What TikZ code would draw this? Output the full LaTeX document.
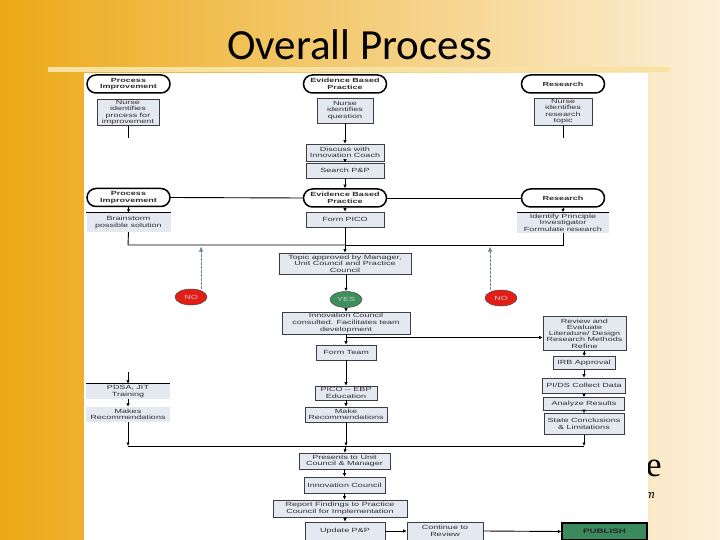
\documentclass[tikz,border=0pt]{standalone}
\usepackage{fontspec}
\setmainfont{Liberation Sans}
\newfontfamily\dfont[FakeStretch=1.5]{Liberation Sans}
\newfontfamily\tfont{Carlito}
\newfontfamily\sfont{Liberation Serif}
\usetikzlibrary{shapes.misc,shapes.geometric,arrows.meta,calc}
\definecolor{bgL}{HTML}{ECA917}
\definecolor{bgM}{HTML}{F4C858}
\definecolor{bgR}{HTML}{FCF0DA}
\definecolor{barc}{HTML}{F7E2A2}
\definecolor{boxfill}{HTML}{E3E8F1}
\definecolor{boxline}{HTML}{3C3C46}
\definecolor{txt}{HTML}{2E2E2E}
\definecolor{yesg}{HTML}{3D8F5C}
\definecolor{nor}{HTML}{E41E17}
\definecolor{pubg}{HTML}{3A8A5E}
\definecolor{dashc}{HTML}{6F8298}
\begin{document}
\begin{tikzpicture}[x=1pt,y=-1pt,
  every node/.style={inner sep=0pt, align=center, text=txt, font=\dfont\fontsize{6}{6.6}\selectfont},
  term/.style={rounded rectangle, draw=black, line width=1.5pt, fill=white,
    minimum width=83pt, minimum height=18pt, font=\dfont\bfseries\fontsize{6}{6.6}\selectfont},
  pbox/.style={draw=boxline, fill=boxfill, line width=0.6pt},
  tbox/.style={fill=boxfill},
  oval/.style={ellipse, draw=black!70, line width=0.5pt, minimum width=32pt, minimum height=16pt, text=white!80!black},
  arr/.style={draw=black, line width=0.9pt, -{Latex[length=3.5pt,width=3.5pt]}},
  ln/.style={draw=black, line width=0.9pt},
  dasharr/.style={draw=dashc, line width=0.8pt, dash pattern=on 2.5pt off 1.5pt, -{Latex[length=5pt,width=4.5pt]}}
]
\useasboundingbox (0,0) rectangle (720,540);
% background
\shade[left color=bgL, middle color=bgM, right color=bgR] (0,0) rectangle (720,540);
\node[font=\sfont\fontsize{35}{35}\selectfont, text=black] (ee) at (654,468) {e};
\node[font=\sfont\itshape\fontsize{13}{13}\selectfont, text=black] (mm) at (650,495) {m};
\fill[barc] (48,67) rectangle (670,72);
\fill[white] (84,73) rectangle (648,540);
\node[font=\tfont\fontsize{43}{43}\selectfont, text=black] (title) at (360,45) {Overall Process};

% top row
\node[term] (pi1) at (128.5,84) {Process\\Improvement};
\node[term] (ebp1) at (345,84) {Evidence Based\\Practice};
\node[term] (res1) at (563,84) {Research};
\node[pbox, minimum width=62pt, minimum height=26pt] (bpi1) at (128,112.5) {Nurse\\identifies\\process for\\improvement};
\node[pbox, minimum width=56pt, minimum height=25pt] (bebp1) at (345,110.5) {Nurse\\identifies\\question};
\node[pbox, minimum width=58pt, minimum height=27pt] (bres1) at (563,111.5) {Nurse\\identifies\\research\\topic};
\coordinate (dpi) at (128,138);
\coordinate (dres) at (563,138);
\draw[ln] (bpi1.south) -- (dpi);
\draw[ln] (bres1.south) -- (dres);
\node[pbox, minimum width=78pt, minimum height=17pt] (discuss) at (345,152.5) {Discuss with\\Innovation Coach};
\node[pbox, minimum width=78pt, minimum height=15pt] (search) at (345,170.5) {Search P\&P};
\draw[arr] (bebp1.south) -- (discuss.north);
\draw[arr] (discuss.south) -- (search.north);

% second row
\node[term] (pi2) at (128.5,197.5) {Process\\Improvement};
\node[term] (ebp2) at (345,198) {Evidence Based\\Practice};
\node[term] (res2) at (563,198) {Research};
\draw[arr] (search.south) -- (ebp2.north);
\draw[ln] (pi2.east) -- (ebp2.west);
\draw[ln] (ebp2.east) -- (res2.west);
\node[tbox, minimum width=84pt, minimum height=19pt] (brain) at (128.5,222.5) {Brainstorm\\possible solution};
\draw[ln] (brain.north west) -- (brain.north east);
\node[pbox, minimum width=78pt, minimum height=15pt] (form) at (345,219.5) {Form PICO};
\node[tbox, minimum width=92pt, minimum height=20pt] (ident) at (563,222.5) {Identify Principle\\Investigator\\Formulate research};
\draw[ln] (ident.north west) -- (ident.north east);
\draw[arr] (pi2.south) -- (brain.north);
\draw[arr] (ebp2.south) -- (form.north);
\draw[arr] (res2.south) -- (ident.north);

% merge
\coordinate (mL) at (128,245);
\coordinate (mM) at (345,245);
\coordinate (mR) at (563,245);
\node[pbox, minimum width=132pt, minimum height=21pt] (topic) at (345,263.5) {Topic approved by Manager,\\Unit Council and Practice\\Council};
\draw[ln] (brain.south) -- (mL) -- (mM);
\draw[ln] (ident.south) -- (mR) -- (mM);
\draw[arr] (form.south) -- (topic.north);

\node[oval, fill=yesg] (yes) at (346,299.5) {YES};
\node[oval, fill=nor] (noL) at (191,297) {NO};
\node[oval, fill=nor] (noR) at (501,298) {NO};
\draw[arr] (topic.south -| yes.north) -- (yes.north);
\coordinate (dL) at (201,246.5);
\coordinate (dR) at (490,246.5);
\draw[dasharr] (noL.north -| dL) -- (dL);
\draw[dasharr] (noR.north -| dR) -- (dR);

\node[pbox, minimum width=128pt, minimum height=22pt] (innov) at (346,323) {Innovation Council\\consulted. Facilitates team\\development};
\draw[arr] (yes.south) -- (innov.north);
\node[pbox, minimum width=60pt, minimum height=15pt] (team) at (346,352.5) {Form Team};
\draw[arr] (innov.south) -- (team.north);
\coordinate (br) at (346,337.5);
\node[pbox, minimum width=83pt, minimum height=34pt, font=\dfont\fontsize{6}{6.3}\selectfont] (review) at (584.5,333.5) {Review and\\Evaluate\\Literature/ Design\\Research Methods\\Refine};
\draw[arr] (br) -- (br -| review.west);
\node[pbox, minimum width=62pt, minimum height=13pt] (irb) at (584,363) {IRB Approval};
\node[pbox, minimum width=83pt, minimum height=15pt] (pids) at (584,385.5) {PI/DS Collect Data};
\node[pbox, minimum width=81pt, minimum height=13pt] (anal) at (584,404) {Analyze Results};
\node[pbox, minimum width=80pt, minimum height=21pt] (state) at (584,424) {State Conclusions\\\& Limitations};
\draw[arr] (review.south) -- (irb.north);
\draw[arr] (irb.south) -- (pids.north);
\draw[arr] (pids.south) -- (anal.north);
\draw[arr] (anal.south) -- (state.north);

% middle lower
\node[pbox, minimum width=62pt, minimum height=14pt] (pico) at (346,393) {PICO -- EBP\\Education};
\node[pbox, minimum width=82pt, minimum height=15pt] (mrec) at (346,414.5) {Make\\Recommendations};
\draw[arr] (team.south) -- (pico.north);
\draw[arr] (pico.south) -- (mrec.north);

% left lower
\coordinate (lstart) at (128,372);
\node[tbox, minimum width=84pt, minimum height=15pt] (pdsa) at (128,391.5) {PDSA, JIT\\Training};
\draw[ln] (pdsa.north west) -- (pdsa.north east);
\node[tbox, minimum width=84pt, minimum height=15pt] (makes) at (128,414.5) {Makes\\Recommendations};
\draw[arr] (lstart) -- (pdsa.north);
\draw[arr] (pdsa.south) -- (makes.north);

% bottom merge
\coordinate (bL) at (128,446);
\coordinate (bM) at (346,446);
\coordinate (bR) at (584,446);
\draw[ln] (bL) -- (bR);
\draw[arr] (makes.south) -- (bL);
\draw[arr] (mrec.south) -- (bM);
\draw[arr] (state.south) -- (bR);

\node[pbox, minimum width=91pt, minimum height=16pt] (pres) at (344.5,461) {Presents to Unit\\Council \& Manager};
\node[pbox, minimum width=81pt, minimum height=16pt] (icoun) at (344.5,485) {Innovation Council};
\node[pbox, minimum width=134pt, minimum height=17pt] (report) at (340,508.5) {Report Findings to Practice\\Council for Implementation};
\node[pbox, minimum width=80pt, minimum height=18pt] (upd) at (345,531) {Update P\&P};
\node[pbox, minimum width=76pt, minimum height=18pt] (cont) at (445,531) {Continue to\\Review};
\node[draw=black, line width=1.2pt, fill=pubg, minimum width=85pt, minimum height=17pt, font=\dfont\bfseries\fontsize{6.5}{7}\selectfont, text=black!85] (pub) at (604.5,531.5) {PUBLISH};
\draw[arr] (bM) -- (pres.north);
\draw[arr] (pres.south) -- (icoun.north);
\draw[arr] (icoun.south) -- (icoun.south |- report.north);
\draw[arr] (report.south -| upd.north) -- (upd.north);
\draw[arr] (upd.east) -- (cont.west);
\draw[arr] (cont.east) -- (pub.west);
\end{tikzpicture}
\end{document}
